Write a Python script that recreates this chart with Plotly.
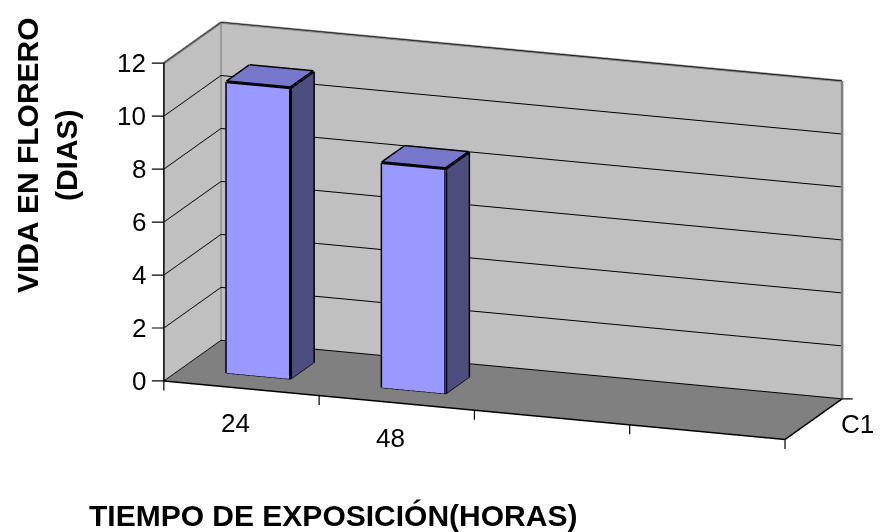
import numpy as np
import plotly.graph_objects as go

# Data
categories = ["24", "48", "", ""]
values = [11, 8.5, None, None]
series_name = "C1"
z_ticks = [0, 2, 4, 6, 8, 10, 12]

x_title = "TIEMPO DE EXPOSICIÓN(HORAS)"
y_title = "VIDA EN FLORERO<br>(DIAS)"

# Styling
FRONT = "#9999FF"
SIDE = "#4D4D80"
TOP = "#7777CC"
WALL = "#C0C0C0"
FLOOR = "#808080"
FONT = "Liberation Sans, Arial, sans-serif"
W, H = 882, 532

n_cat = len(categories)
x_lo, x_hi = 0.5, n_cat + 0.5
y_lo, y_hi = 0.0, 1.0
z_lo, z_hi = z_ticks[0], z_ticks[-1]
bar_w = 0.41
bar_d = 0.40

# Build box meshes for each column
vx, vy, vz, ii, jj, kk, fc = [], [], [], [], [], [], []
ex, ey, ez = [], [], []
for idx, v in enumerate(values):
    if v is None:
        continue
    xc = idx + 1
    x0, x1 = xc - bar_w / 2, xc + bar_w / 2
    y0, y1 = 0.5 - bar_d / 2, 0.5 + bar_d / 2
    base = len(vx)
    corners = [(x0, y0, 0), (x1, y0, 0), (x1, y1, 0), (x0, y1, 0),
               (x0, y0, v), (x1, y0, v), (x1, y1, v), (x0, y1, v)]
    for cx, cy, cz in corners:
        vx.append(cx); vy.append(cy); vz.append(cz)
    faces = [((0, 1, 5), FRONT), ((0, 5, 4), FRONT),
             ((1, 2, 6), SIDE), ((1, 6, 5), SIDE),
             ((4, 5, 6), TOP), ((4, 6, 7), TOP),
             ((3, 2, 6), SIDE), ((3, 6, 7), SIDE),
             ((0, 3, 7), FRONT), ((0, 7, 4), FRONT),
             ((0, 1, 2), SIDE), ((0, 2, 3), SIDE)]
    for (a, b, c), col in faces:
        ii.append(base + a); jj.append(base + b); kk.append(base + c); fc.append(col)
    edges = [(0, 1), (1, 2), (2, 3), (3, 0), (4, 5), (5, 6), (6, 7), (7, 4),
             (0, 4), (1, 5), (2, 6), (3, 7)]
    for a, b in edges:
        pa, pb = corners[a], corners[b]
        ex += [pa[0], pb[0], None]
        ey += [pa[1], pb[1], None]
        ez += [pa[2], pb[2], None]

fig = go.Figure()

fig.add_trace(go.Mesh3d(
    x=vx, y=vy, z=vz, i=ii, j=jj, k=kk, facecolor=fc,
    flatshading=True,
    lighting=dict(ambient=1.0, diffuse=0.0, specular=0.0, roughness=1.0, fresnel=0.0),
    hoverinfo="skip", showscale=False,
))

fig.add_trace(go.Scatter3d(
    x=ex, y=ey, z=ez, mode="lines",
    line=dict(color="black", width=6),
    hoverinfo="skip", showlegend=False,
))

# Wall outlines (gray)
gx = [x_lo, x_lo, None, x_lo, x_hi, None, x_lo, x_lo, None, x_hi, x_hi, None]
gy = [y_lo, y_hi, None, y_hi, y_hi, None, y_hi, y_hi, None, y_hi, y_hi, None]
gz = [z_hi, z_hi, None, z_hi, z_hi, None, z_lo, z_hi, None, z_lo, z_hi, None]
fig.add_trace(go.Scatter3d(
    x=gx, y=gy, z=gz, mode="lines",
    line=dict(color="#808080", width=5),
    hoverinfo="skip", showlegend=False,
))

# Axis edges (black)
bx = [x_lo, x_lo, None, x_lo, x_hi, None, x_hi, x_hi, None]
by = [y_lo, y_lo, None, y_lo, y_lo, None, y_lo, y_hi, None]
bz = [z_lo, z_hi, None, z_lo, z_lo, None, z_lo, z_lo, None]
fig.add_trace(go.Scatter3d(
    x=bx, y=by, z=bz, mode="lines",
    line=dict(color="black", width=3),
    hoverinfo="skip", showlegend=False,
))

# Camera: orthographic view, rotated 20 degrees and raised 15 degrees
phi = np.radians(20)
theta = np.radians(15)
direction = np.array([np.sin(phi) * np.cos(theta), -np.cos(phi) * np.cos(theta), np.sin(theta)])
right = np.array([np.cos(phi), np.sin(phi), 0.0])
up = np.array([-np.sin(theta) * np.sin(phi), np.sin(theta) * np.cos(phi), np.cos(theta)])
dist = 1.8
px_per_unit = 266
center = -(62 / px_per_unit) * right - (35 / px_per_unit) * up
eye = center + dist * direction

label_font = dict(family=FONT, size=26, color="black")
common = dict(showspikes=False, zeroline=False, showline=False, showticklabels=False,
              ticks="", title=dict(text=""), showbackground=True)

scene_annotations = []
# value axis labels with tick marks
for t in z_ticks:
    scene_annotations.append(dict(
        x=x_lo, y=y_lo, z=t, text=str(t), showarrow=True, arrowhead=0,
        arrowwidth=1.2, arrowcolor="black", ax=-16, ay=0, startstandoff=4,
        xanchor="right", yanchor="middle", font=label_font))
# category tick marks at slot boundaries
for k in range(n_cat + 1):
    scene_annotations.append(dict(
        x=x_lo + k, y=y_lo, z=z_lo, text="", showarrow=True, arrowhead=0,
        arrowwidth=1.2, arrowcolor="black", ax=0, ay=11, font=dict(size=1)))
# category labels
for idx, label in enumerate(categories):
    if label:
        scene_annotations.append(dict(
            x=idx + 1, y=y_lo, z=z_lo, text=label, showarrow=False,
            xshift=-6, yshift=-35, font=label_font))
# series axis
scene_annotations.append(dict(
    x=x_hi, y=y_hi, z=z_lo, text="", showarrow=True, arrowhead=0,
    arrowwidth=1.2, arrowcolor="black", ax=12, ay=0, font=dict(size=1)))
scene_annotations.append(dict(
    x=x_hi, y=0.5, z=z_lo, text=series_name, showarrow=False,
    xshift=44, yshift=-5, font=label_font))

fig.update_layout(
    width=W, height=H,
    margin=dict(l=0, r=0, t=0, b=0),
    paper_bgcolor="white",
    showlegend=False,
    scene=dict(
        domain=dict(x=[0, 1], y=[0, 1]),
        xaxis=dict(range=[x_lo, x_hi], showgrid=False, backgroundcolor=WALL, **common),
        yaxis=dict(range=[y_lo, y_hi], showgrid=False, backgroundcolor=WALL, **common),
        zaxis=dict(range=[z_lo, z_hi], tickvals=z_ticks, showgrid=True,
                   gridcolor="black", gridwidth=2, backgroundcolor=FLOOR, **common),
        aspectmode="manual",
        aspectratio=dict(x=2.485, y=0.628, z=1.237),
        camera=dict(
            projection=dict(type="orthographic"),
            eye=dict(x=eye[0], y=eye[1], z=eye[2]),
            center=dict(x=center[0], y=center[1], z=center[2]),
            up=dict(x=0, y=0, z=1),
        ),
        annotations=scene_annotations,
    ),
    annotations=[
        dict(text="<b>" + x_title + "</b>", x=333 / W, y=1 - 515 / H,
             xref="paper", yref="paper", xanchor="center", yanchor="middle",
             showarrow=False, font=dict(family=FONT, size=30, color="black")),
        dict(text="<b>" + y_title + "</b>", x=47 / W, y=1 - 155 / H,
             xref="paper", yref="paper", xanchor="center", yanchor="middle",
             showarrow=False, textangle=-90,
             font=dict(family=FONT, size=30, color="black")),
    ],
)

fig.write_html("out.html")
